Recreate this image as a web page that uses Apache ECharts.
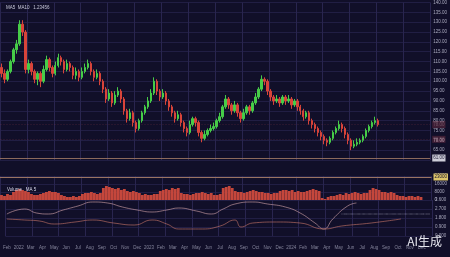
<!DOCTYPE html>
<html><head><meta charset="utf-8">
<script src="https://cdn.jsdelivr.net/npm/echarts@6/dist/echarts.min.js"></script>
<style>html,body{margin:0;padding:0;background:#110f29}#c{width:450px;height:257px}</style>
</head><body><div id="c"></div>
<script>
// [open, close, low, high]
const candles = [
[107,104,102,109],[104,101,99,106],[101,105,100,106],[105,110,104,111],[110,116,109,117],
[116,119,114,121],[119,129,118,131],[129,125,123,131],[125,106,104,126],[106,109,104,111],
[109,105,103,110],[105,101,99,106],[101,104,98,105],[104,100,97,105],[100,106,99,108],
[106,111,105,113],[111,107,105,112],[107,104,102,108],[104,108,103,110],[108,112,107,114],
[112,110,108,113],[110,106,104,111],[106,109,105,111],[109,107,105,110],[107,103,101,108],
[103,105,101,107],[105,102,100,106],[102,105,101,107],[105,107,104,109],[107,109,106,111],
[109,105,103,110],[105,102,100,106],[102,104,101,106],[104,100,98,105],[100,96,94,101],
[96,91,89,97],[91,94,90,96],[94,89,87,95],[89,93,88,95],[93,95,92,97],
[95,91,89,96],[91,85,83,92],[85,81,79,86],[81,84,80,86],[84,79,77,85],
[79,76,74,80],[76,80,75,81],[80,84,79,85],[84,87,83,88],[87,90,86,92],
[90,94,89,96],[94,100,93,102],[100,95,93,101],[95,92,90,96],[92,94,91,96],
[94,90,88,95],[90,87,85,91],[87,84,82,88],[84,81,79,85],[81,83,80,85],
[83,79,77,84],[79,76,74,80],[76,74,72,77],[74,78,73,80],[78,81,77,82],
[81,79,77,82],[79,74,72,80],[74,71,69,75],[71,73,70,75],[73,75,72,76],
[75,76,74,78],[76,77,75,79],[77,80,76,81],[80,82,79,84],[82,87,81,88],
[87,91,86,93],[91,88,86,92],[88,85,83,89],[85,88,84,90],[88,84,82,89],
[84,81,79,85],[81,84,80,86],[84,87,83,88],[87,85,83,88],[85,89,84,90],
[89,92,88,94],[92,96,91,97],[96,101,95,103],[101,100,98,102],[100,95,93,101],
[95,92,90,96],[92,90,88,93],[90,91,89,93],[91,89,87,92],[89,92,88,93],
[92,90,88,93],[90,91,89,93],[91,88,86,92],[88,90,87,91],[90,87,85,91],
[87,85,83,88],[85,82,80,86],[82,84,81,85],[84,80,78,85],[80,78,76,81],
[78,76,74,79],[76,74,72,77],[74,72,70,75],[72,70,68,73],[70,69,67,71],
[69,71,68,72],[71,74,70,75],[74,76,73,77],[76,78,75,80],[78,76,74,79],
[76,73,71,77],[73,70,68,74],[70,67,65,71],[67,68,66,70],[68,69,67,71],
[69,70,68,71],[70,72,69,73],[72,75,71,76],[75,77,74,78],[77,79,76,80],
[79,80,78,82],[80,78,77,81]
];
const volumes = [
5,4,6,5, 8,10,11,10,9,8, 6,5,5,6, 7,8,9,8,8,7, 5,4,3,3,4,3,4,
6,7,7,8,7,6,7, 12,14,13, 12,11,12,10,11, 9,8,9,8,7, 5,6,5,
5,6,6, 9,10,11,10, 12,11,12, 7,6,6,5,6,7, 7,8,7,6,7, 5,5,6,
12,13,14,12, 9,8,8,7,8, 9,10,9,8, 8,7,7,6,7,7, 9,10,10,9,10,
8,9,8,8,9, 10,11,10,9, 2,1, 3,4,4, 5,6,5, 7,6,7,8,7,6,7,7,
10,12,11,10, 8,8,7,8,7, 5,4,4,3,4,4,3,4, 3
];
// [category index, value]
const difPoints = [[0,22],[6,27],[10,23],[14,22],[19,26],[24,30],[29,34],[34,33],[39,29],[44,26],[49,24],[54,26],[58,28],[64,25],[69,22],[73,27],[77,32],[83,34],[88,32],[94,29],[99,23],[104,13],[107,7],[110,17],[115,30],[118,33]];
const deaPoints = [[0,17],[6,16],[11,15],[16,12],[23,14],[29,16],[36,13],[43,11],[49,16],[54,12],[58,7],[66,7],[72,10],[77,16],[79,9],[83,13],[91,14],[99,13],[107,7],[113,10],[123,13],[133,17]];
const signalPoints = [[113,22],[125,22],[135,22],[143,22]];
const tickLabels = ['Feb','2022','Mar','Apr','May','Jun','Jul','Aug','Sep','Oct','Nov','Dec','2023','Feb','Mar','Apr','May','Jun','Jul','Aug','Sep','Oct','Nov','Dec','2024','Feb','Mar','Apr','May','Jun','Jul','Aug','Sep','Oct','Nov','Dec'];
const slotCount = 144;
const priceMarks = [{v:78,c:'#c84a5a',t:'#f4e0e4'},{v:70.5,c:'#c84a5a',t:'#f4e0e4'}];
const supportLevel = 61;
const volumeLevel = 23;

const categories = [];
for (let i = 0; i < slotCount; i++) categories.push(tickLabels[Math.floor(i/4)]);
const volData = volumes.map(v => ({value: v}));

const gridColor = '#211e44';
const font = 'Liberation Sans';
function xAx(gi, showLabel) {
  return {type:'category', gridIndex:gi, data:categories, boundaryGap:true,
    axisLine:{show:false}, axisTick:{show:false},
    axisLabel:{show:showLabel, interval:3, fontSize:4.5, color:'#85859c', margin:9, fontFamily:font},
    splitLine:{show:true, interval:8, lineStyle:{color:'#29254f', width:1}}};
}
function yAx(gi, min, max, interval, fmt) {
  return {type:'value', gridIndex:gi, position:'right', min, max, interval,
    axisLine:{show:false}, axisTick:{show:false},
    axisLabel:{fontSize:4.5, color:'#a9a9bd', margin:3, fontFamily:font, formatter:fmt},
    splitLine:{show:true, lineStyle:{color:gridColor, width:1}}};
}
const chart = echarts.init(document.getElementById('c'));
chart.setOption({
  backgroundColor:'#110f29',
  animation:false,
  title:[
    {text:'MA5  MA10   1.23456', left:1, top:0, textStyle:{fontSize:4.5, color:'#c8c8da', fontWeight:'normal', fontFamily:font}},
    {text:'Volume   MA 5', left:2, top:182, textStyle:{fontSize:4.5, color:'#d8d8e8', fontWeight:'normal', fontFamily:font}},
    {text:'AI生成', right:3, bottom:5, textStyle:{fontSize:12, color:'#e6e6ee', fontWeight:'normal', fontFamily:'Noto Sans CJK SC'}}
  ],
  grid:[
    {left:0, right:18, top:0, height:160},
    {left:0, right:18, top:176, height:24},
    {left:0, right:18, top:200, height:36}
  ],
  xAxis:[xAx(0,false), xAx(1,false), xAx(2,true)],
  yAxis:[
    yAx(0, 60, 140, 5, v => v.toFixed(2)),
    yAx(1, 0, 24, 8, v => (v*1000).toFixed(0)),
    yAx(2, 0, 36, 9, v => (v/10).toFixed(3))
  ],
  series:[
    {type:'candlestick', xAxisIndex:0, yAxisIndex:0, data:candles, barWidth:'65%',
     itemStyle:{color:'#46cc48', color0:'#d8443a', borderColor:'#46cc48', borderColor0:'#d8443a', borderWidth:1},
     markLine:{symbol:['none','none'], silent:true, data:[
       ...priceMarks.map(m => ({yAxis:m.v, lineStyle:{color:m.c, type:'dashed', width:0.5, opacity:0.25},
          label:{show:true, position:'end', formatter:m.v.toFixed(2), fontSize:4.5, color:m.t, backgroundColor:m.c, padding:[1,1], distance:2}})),
       {yAxis:supportLevel, lineStyle:{color:'#9a7462', type:'solid', width:1, opacity:0.9},
          label:{show:true, position:'end', formatter:supportLevel.toFixed(2), fontSize:4.5, color:'#13112c', backgroundColor:'#dcdce6', padding:[1,1], distance:2}}
     ]}},
    {type:'bar', xAxisIndex:1, yAxisIndex:1, data:volData, barWidth:'95%',
     itemStyle:{color:'#c4473c'},
     markLine:{symbol:['none','none'], silent:true, data:[
       {yAxis:volumeLevel, lineStyle:{color:'#9a7462', type:'solid', width:1},
        label:{show:true, position:'end', formatter:'23000', fontSize:4.5, color:'#13112c', backgroundColor:'#dcc46a', padding:[1,1], distance:2}}]}},
    {type:'line', xAxisIndex:2, yAxisIndex:2, data:difPoints, smooth:true, showSymbol:false, lineStyle:{color:'#dcaab0', width:0.7, opacity:0.85}},
    {type:'line', xAxisIndex:2, yAxisIndex:2, data:deaPoints, smooth:true, showSymbol:false, lineStyle:{color:'#d07a6a', width:0.7, opacity:0.85}},
    {type:'line', xAxisIndex:2, yAxisIndex:2, data:signalPoints, smooth:true, showSymbol:false, lineStyle:{color:'#c4c4d6', width:0.6, type:'dotted'}}
  ]
});
</script></body></html>
